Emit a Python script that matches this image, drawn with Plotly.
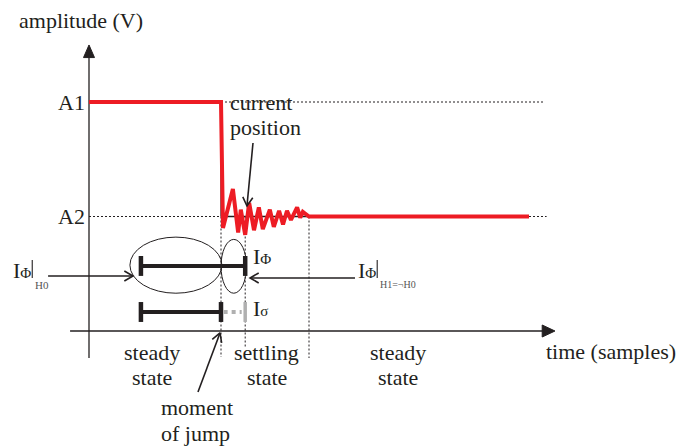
import math
import plotly.graph_objects as go

# ---- signal description -------------------------------------------------
A1 = 2.0            # level before the jump (V)
A2 = 1.0            # level after the jump (V)
t_jump = 30.0       # moment of jump (samples)
t_settled = 50.0    # end of settling (samples)
t_end = 100.0       # last drawn sample

# ringing right after the jump
ring_t = [30.0, 30.45, 32.7, 33.9, 34.5, 35.5, 36.4, 37.5, 38.6, 39.5,
          41.1, 42.0, 43.2, 44.1, 45.0, 45.9, 47.3, 48.0, 48.6, 50.0]
ring_v = [2.0, 0.90, 1.24, 0.86, 1.06, 0.84, 1.12, 0.88, 1.08, 0.89,
          1.06, 0.91, 1.05, 0.93, 1.05, 0.97, 1.08, 0.99, 1.04, 1.00]

# observation windows (samples)
phi_window = [11.8, 35.5]
sigma_window = [11.8, 30.0]

sig_t = [0.0] + ring_t + [t_end]
sig_v = [A1] + ring_v + [A2]

# ---- canvas -------------------------------------------------------------
W, H = 681, 446
X_RANGE = [-20.227, 134.545]
Y_RANGE = [-1.0044, 2.8908]
SX = W / (X_RANGE[1] - X_RANGE[0])   # px per sample
SY = H / (Y_RANGE[1] - Y_RANGE[0])   # px per volt

INK = "#231f20"
RED = "#ed1c24"
GREY = "#b0b0b0"
FONT = "Liberation Serif, Times New Roman, DejaVu Serif, serif"
DOTS = "2px,2px"

fig = go.Figure()


def seg(xs, ys, color=INK, width=1.2, dash="solid"):
    fig.add_trace(go.Scatter(x=xs, y=ys, mode="lines",
                             line=dict(color=color, width=width, dash=dash),
                             hoverinfo="skip", showlegend=False))


def solid_head(tip, base, half_w_px):
    # filled triangular arrow head; tip and base in data units
    dx, dy = (tip[0] - base[0]) * SX, (tip[1] - base[1]) * SY
    n = math.hypot(dx, dy)
    px, py = -dy / n * half_w_px, dx / n * half_w_px
    xs = [tip[0], base[0] + px / SX, base[0] - px / SX, tip[0]]
    ys = [tip[1], base[1] + py / SY, base[1] - py / SY, tip[1]]
    fig.add_trace(go.Scatter(x=xs, y=ys, mode="lines", fill="toself",
                             fillcolor=INK, line=dict(color=INK, width=1),
                             hoverinfo="skip", showlegend=False))


def open_arrow(x0, y0, x1, y1, size=10, spread=30):
    # shaft plus an open V head pointing at (x1, y1)
    seg([x0, x1], [y0, y1], width=1.6)
    dx, dy = (x1 - x0) * SX, (y1 - y0) * SY
    n = math.hypot(dx, dy)
    ux, uy = dx / n, dy / n
    xs, ys = [], []
    for s in (1, -1):
        a = math.radians(spread) * s
        bx = ux * math.cos(a) - uy * math.sin(a)
        by = ux * math.sin(a) + uy * math.cos(a)
        xs.append(x1 - size * bx / SX)
        ys.append(y1 - size * by / SY)
    seg([xs[0], x1, xs[1]], [ys[0], y1, ys[1]], width=1.6)


def text(x, y, s, size=22, xanchor="left", color=INK):
    fig.add_annotation(x=x, y=y, text=s, showarrow=False, xanchor=xanchor,
                       yanchor="middle", borderpad=0,
                       font=dict(family=FONT, size=size, color=color))


# ---- axes ---------------------------------------------------------------
seg([0, 0], [-0.236, 2.40], width=1.3)
solid_head((0, 2.498), (0, 2.388), 5.5)
seg([-4.3, 103.5], [0, 0], width=1.3)
solid_head((105.9, 0), (103.0, 0), 6)

# reference levels
seg([t_jump, 103.6], [A1, A1], dash=DOTS, width=1)
seg([0, 104.0], [A2, A2], dash=DOTS, width=1)
seg([t_jump, t_settled], [A2, A2], width=1.3)
seg([t_jump, t_jump], [A2, A1], width=1.2)

# time markers
seg([t_jump, t_jump], [A2, -0.227], dash=DOTS, width=1)
seg([phi_window[1], phi_window[1]], [A2, -0.14], dash=DOTS, width=1)
seg([t_settled, t_settled], [A2, -0.236], dash=DOTS, width=1)

# signal
seg(sig_t, sig_v, color=RED, width=4)

# ---- observation windows -----------------------------------------------
lvl_phi, lvl_sig, cap = 0.568, 0.166, 0.087
seg(phi_window, [lvl_phi, lvl_phi], width=4)
for tx in phi_window:
    seg([tx, tx], [lvl_phi - cap, lvl_phi + cap], width=4.5)
seg(sigma_window, [lvl_sig, lvl_sig], width=4)
for tx in sigma_window:
    seg([tx, tx], [lvl_sig - cap, lvl_sig + cap], width=4.5)
seg([sigma_window[1] + 0.6, phi_window[1] - 0.8], [lvl_sig, lvl_sig],
    color=GREY, width=4, dash="4px,4px")
seg([phi_window[1], phi_window[1]], [lvl_sig - cap, lvl_sig + cap],
    color=GREY, width=3.5)

fig.add_shape(type="circle", xref="x", yref="y", x0=9.3, x1=30.2,
              y0=0.33, y1=0.82, line=dict(color=INK, width=1))
fig.add_shape(type="circle", xref="x", yref="y", x0=30.0, x1=35.8,
              y0=0.33, y1=0.80, line=dict(color=INK, width=1))

# ---- pointers -----------------------------------------------------------
open_arrow(-9.3, 0.480, 10.0, 0.480)
open_arrow(60.45, 0.463, 36.6, 0.463)
open_arrow(37.27, 1.642, 35.9, 1.092)
open_arrow(24.77, -0.533, 29.77, -0.017)

# ---- labels -------------------------------------------------------------
text(-16.14, 2.716, "amplitude (V)")
text(-0.68, A1, "A1", xanchor="right")
text(-0.68, A2, "A2", xanchor="right")
text(31.8, 2.00, "current")
text(31.8, 1.78, "position")
for tc, top, bottom in [(14.3, "steady", "state"),
                        (40.45, "settling", "state"),
                        (70.2, "steady", "state")]:
    text(tc, -0.192, top, xanchor="center")
    text(tc, -0.410, bottom, xanchor="center")
text(16.1, -0.672, "moment")
text(16.1, -0.891, "of jump")
text(103.6, -0.183, "time (samples)")

PHI = "I<span style='font-size:15px'>Φ</span>"
text(37.1, 0.650, PHI)
text(37.1, 0.196, "I<span style='font-size:15px'>σ</span>")

# I_Phi restricted to H0
text(-17.5, 0.528, PHI)
seg([-12.9, -12.9], [0.62, 0.463], width=1.1)
text(-12.5, 0.400, "H0", size=11, color="#555555")

# I_Phi restricted to H1 = not H0
text(60.8, 0.528, PHI)
seg([65.5, 65.5], [0.62, 0.463], width=1.1)
text(65.9, 0.410, "H1=¬H0", size=10, color="#555555")

fig.update_layout(
    width=W, height=H, margin=dict(l=0, r=0, t=0, b=0),
    paper_bgcolor="white", plot_bgcolor="white", showlegend=False,
    xaxis=dict(range=X_RANGE, visible=False, fixedrange=True),
    yaxis=dict(range=Y_RANGE, visible=False, fixedrange=True),
)

fig.write_html("out.html")
